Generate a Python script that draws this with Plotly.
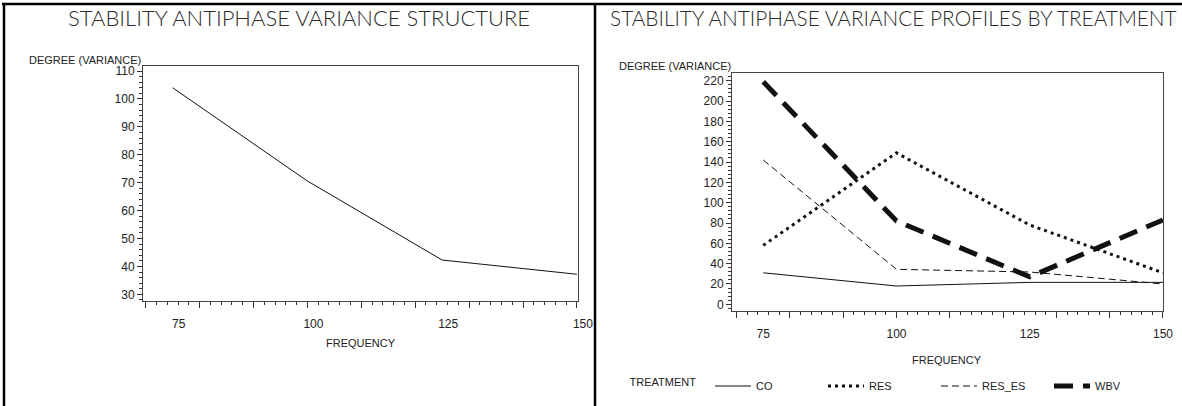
import plotly.graph_objects as go

# ---------------- data ----------------
freq = [75, 100, 125, 150]
overall = [104.0, 70.6, 42.3, 37.2]

co = [31.0, 18.0, 21.6, 21.6]
res = [58.0, 149.0, 78.0, 31.0]
res_es = [142.0, 34.4, 31.8, 20.0]
wbv = [219.0, 82.0, 27.0, 83.0]

x_label_vals = [75, 100, 125, 150]
x_major_ticks = list(range(70, 151, 10))
left_y_ticks = list(range(30, 111, 10))
right_y_ticks = list(range(0, 221, 20))

W, H = 1182, 406


def px(x):
    return x / W


def py(y):
    return (H - y) / H


TITLE_FONT_L = dict(family="Lato, Open Sans, sans-serif", size=22, color="#2a2a2a", weight=300)
TITLE_FONT_R = dict(family="Lato, Open Sans, sans-serif", size=20.8, color="#2a2a2a", weight=300)
SMALL_FONT = dict(family="Liberation Sans Narrow, Arial Narrow, Liberation Sans", size=11, color="#222")
TICK_FONT = dict(family="Liberation Sans, Arial", size=12, color="#222")

fig = go.Figure()

fig.add_trace(go.Scatter(x=freq, y=overall, mode="lines", line=dict(color="#111", width=1),
                         xaxis="x", yaxis="y", showlegend=False, name="Overall"))

fig.add_trace(go.Scatter(x=freq, y=co, mode="lines", name="CO",
                         line=dict(color="#111", width=1), xaxis="x2", yaxis="y2"))
fig.add_trace(go.Scatter(x=freq, y=res, mode="lines", name="RES",
                         line=dict(color="#111", width=3, dash="3px,4px"), xaxis="x2", yaxis="y2"))
fig.add_trace(go.Scatter(x=freq, y=res_es, mode="lines", name="RES_ES",
                         line=dict(color="#111", width=1, dash="7px,4px"), xaxis="x2", yaxis="y2"))
fig.add_trace(go.Scatter(x=freq, y=wbv, mode="lines", name="WBV",
                         line=dict(color="#111", width=5, dash="19px,10px"), xaxis="x2", yaxis="y2"))

# invisible carriers so that the tick-label overlay axes get drawn
fig.add_trace(go.Scatter(x=freq, y=overall, mode="lines", line=dict(color="rgba(0,0,0,0)", width=0),
                         xaxis="x3", yaxis="y", showlegend=False, hoverinfo="skip"))
fig.add_trace(go.Scatter(x=freq, y=co, mode="lines", line=dict(color="rgba(0,0,0,0)", width=0),
                         xaxis="x4", yaxis="y2", showlegend=False, hoverinfo="skip"))

base_x = dict(showgrid=False, zeroline=False, showline=True, linecolor="#444", linewidth=1,
              mirror=True, ticks="outside", ticklen=6, tickcolor="#333", tickwidth=1,
              tickvals=x_major_ticks, showticklabels=False,
              minor=dict(tick0=70, dtick=2, ticks="outside", ticklen=3, tickcolor="#333", showgrid=False))

label_x = dict(showgrid=False, zeroline=False, showline=False, ticks="outside", ticklen=12,
               tickcolor="rgba(0,0,0,0)", tickvals=x_label_vals, tickfont=TICK_FONT)

base_y = dict(showgrid=False, zeroline=False, showline=True, linecolor="#444", linewidth=1,
              mirror=True, ticks="outside", ticklen=5, tickcolor="#333", tickwidth=1,
              tickfont=TICK_FONT)

left_xr = [69.5, 150.2]
right_xr = [69.14, 150.06]

fig.update_layout(
    width=W, height=H, margin=dict(l=0, r=0, t=0, b=0, autoexpand=False),
    paper_bgcolor="white", plot_bgcolor="white",
    xaxis=dict(**base_x, domain=[px(143), px(578)], range=left_xr, anchor="y"),
    yaxis=dict(**base_y, domain=[py(300.5), py(65.7)], range=[27.8, 111.9], anchor="x",
               tickvals=left_y_ticks,
               minor=dict(dtick=2, tick0=30, ticks="outside", ticklen=3, tickcolor="#333", showgrid=False)),
    xaxis2=dict(**base_x, domain=[px(732), px(1163.3)], range=right_xr, anchor="y2"),
    yaxis2=dict(**base_y, domain=[py(310.7), py(72.7)], range=[-6.3, 227.9], anchor="x2",
                tickvals=right_y_ticks,
                minor=dict(dtick=4, tick0=0, ticks="outside", ticklen=3, tickcolor="#333", showgrid=False)),
    xaxis3=dict(**label_x, overlaying="x", anchor="y", range=left_xr, ticklabelshift=6),
    xaxis4=dict(**label_x, overlaying="x2", anchor="y2", range=right_xr),
    showlegend=True,
    legend=dict(orientation="h", x=px(627.5), y=py(386), xanchor="left", yanchor="middle",
                title=dict(text="TREATMENT\u00a0\u00a0", side="left", font=SMALL_FONT),
                font=SMALL_FONT, bgcolor="rgba(0,0,0,0)", entrywidth=62, entrywidthmode="pixels",
                itemwidth=36),
    annotations=[
        dict(text="STABILITY ANTIPHASE VARIANCE STRUCTURE", xref="paper", yref="paper",
             x=px(299), y=py(18), xanchor="center", yanchor="middle", showarrow=False, font=TITLE_FONT_L),
        dict(text="STABILITY ANTIPHASE VARIANCE PROFILES BY TREATMENT", xref="paper", yref="paper",
             x=px(893.5), y=py(18), xanchor="center", yanchor="middle", showarrow=False, font=TITLE_FONT_R),
        dict(text="DEGREE (VARIANCE)", xref="paper", yref="paper", x=px(27), y=py(60),
             xanchor="left", yanchor="middle", showarrow=False, font=SMALL_FONT),
        dict(text="DEGREE (VARIANCE)", xref="paper", yref="paper", x=px(617), y=py(66),
             xanchor="left", yanchor="middle", showarrow=False, font=SMALL_FONT),
        dict(text="FREQUENCY", xref="paper", yref="paper", x=px(361), y=py(343),
             xanchor="center", yanchor="middle", showarrow=False, font=SMALL_FONT),
        dict(text="FREQUENCY", xref="paper", yref="paper", x=px(947), y=py(360),
             xanchor="center", yanchor="middle", showarrow=False, font=SMALL_FONT),
    ],
    shapes=[
        dict(type="line", xref="paper", yref="paper", x0=px(2), x1=1, y0=py(4), y1=py(4),
             line=dict(color="black", width=2.5)),
        dict(type="line", xref="paper", yref="paper", x0=px(4), x1=px(4), y0=0, y1=py(4),
             line=dict(color="black", width=2.5)),
        dict(type="line", xref="paper", yref="paper", x0=px(595), x1=px(595), y0=0, y1=py(4),
             line=dict(color="black", width=2.5)),
    ],
)

fig.write_html("out.html")
